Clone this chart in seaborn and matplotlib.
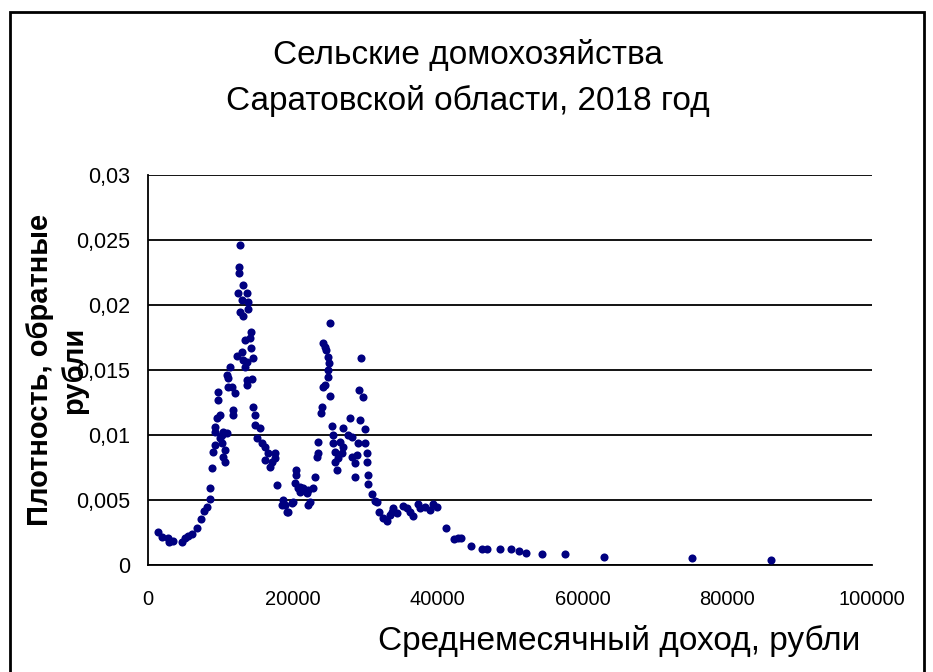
import matplotlib
matplotlib.use('Agg')
import matplotlib.pyplot as plt
import matplotlib.ticker as mticker
import seaborn as sns
import pandas as pd

# Income (rubles) and density (1/rubles)
income = [1450, 2000, 2810, 2900, 3460, 4660, 5110, 5570, 6040, 6730, 7370, 7780, 8110, 8570, 8570, 8800, 9020, 9260,
          9260, 9260, 9490, 9720, 9720, 9950, 9950, 10190, 10410, 10880, 10640, 10410, 10640, 10190, 10880, 11100,
          11330, 11100, 11570, 12020, 11790, 11790, 12260, 12950, 13170, 13410, 13410, 14190, 14100, 14190, 14550,
          13640, 14330, 12710, 13170, 13860, 13860, 13640, 12480, 12950, 13090, 12620, 12620, 12710, 13640, 13640,
          14550, 14790, 14790, 15020, 15480, 15710, 16170, 16630, 17550, 16170, 16860, 17550, 17790, 18700, 18480,
          19860, 19170, 18930, 19390, 17140,
          20080, 20450, 20450, 20320, 20770, 21010, 21460, 21010, 21930, 22150, 22840, 22390, 22150, 23080, 23310,
          23540, 23540,
          23870, 24010, 24140, 24460, 24920, 24920, 25060, 24920, 24460, 24230, 24600, 25150, 25150, 25390, 25610,
          25610, 25840, 25840, 26080, 26300, 26530, 26770, 27000, 27000, 27680, 27920, 28150, 28150, 28610, 28610,
          28840, 29060, 29300, 29200, 29760, 29440, 29990, 29990, 30220, 30220, 30450, 30450, 30920, 31370, 31610,
          31970, 32520, 32990, 33440, 33900, 33680, 34370, 35200, 35750, 36210, 36580, 37360, 37590, 38280, 38970,
          39430, 39980,
          41180, 42290, 42880, 43260, 44600, 46120, 46810, 48550, 50170, 51180, 52240, 54410, 57540, 62930, 75140,
          86060]
density = [0.00256, 0.00218, 0.00205, 0.00179, 0.00188, 0.00179, 0.00205, 0.00223, 0.00236, 0.00288, 0.00354,
           0.00418, 0.00448, 0.00504, 0.00592, 0.00744, 0.00872, 0.00923,
           0.01025, 0.01064, 0.01128, 0.01269, 0.01333, 0.01154, 0.00974, 0.00936, 0.01025, 0.01013, 0.00884,
           0.00833, 0.00794, 0.01000, 0.01461, 0.01436, 0.01525, 0.01371, 0.01371, 0.01320, 0.01192, 0.01154,
           0.01607, 0.01640, 0.01577, 0.01525, 0.01730, 0.01794, 0.01743, 0.01667, 0.01590, 0.01423, 0.01428,
           0.01948, 0.01915, 0.01967, 0.02025, 0.02090, 0.02090, 0.02038, 0.02154, 0.02248, 0.02295, 0.02462,
           0.01564, 0.01385,
           0.01218, 0.01154, 0.01077, 0.00974, 0.01051, 0.00936, 0.00910, 0.00859, 0.00859, 0.00807, 0.00756,
           0.00820, 0.00615, 0.00500, 0.00461, 0.00474, 0.00410, 0.00461, 0.00410, 0.00792,
           0.00487, 0.00731, 0.00692, 0.00628, 0.00590, 0.00602, 0.00590, 0.00564, 0.00551, 0.00577, 0.00590,
           0.00487, 0.00461, 0.00679, 0.00828, 0.00859, 0.00948,
           0.01167, 0.01218, 0.01371, 0.01385, 0.01448, 0.01500, 0.01551, 0.01602, 0.01679, 0.01705, 0.01654,
           0.01859, 0.01300, 0.01069, 0.01000, 0.00936, 0.00872, 0.00794, 0.00731, 0.00820, 0.00948, 0.00859,
           0.00910, 0.01051, 0.01000, 0.01128, 0.00982, 0.00833, 0.00782, 0.00679, 0.00846, 0.00936, 0.01115,
           0.01346, 0.01290, 0.01590, 0.01044, 0.00936, 0.00864, 0.00794, 0.00692, 0.00623, 0.00546, 0.00495,
           0.00482, 0.00408, 0.00359, 0.00342, 0.00385, 0.00436, 0.00410, 0.00398, 0.00454, 0.00436, 0.00410,
           0.00379, 0.00469, 0.00436, 0.00444, 0.00423, 0.00469, 0.00448,
           0.00282, 0.00200, 0.00205, 0.00208, 0.00146, 0.00121, 0.00121, 0.00121, 0.00121, 0.00108, 0.00095,
           0.00082, 0.00082, 0.00064, 0.00052, 0.00038]

x_ticks = [0, 20000, 40000, 60000, 80000, 100000]
y_ticks = [0, 0.005, 0.01, 0.015, 0.02, 0.025, 0.03]

df = pd.DataFrame({'income': income, 'density': density})

sns.set_style('white')
plt.rcParams['font.family'] = ['Liberation Sans', 'DejaVu Sans']
plt.rcParams['text.color'] = 'black'

fig = plt.figure(figsize=(9.33, 6.72), dpi=100)
ax = fig.add_axes([148 / 933, 1 - 565 / 672, 724 / 933, 390 / 672])

# horizontal grid lines at every y tick, drawn under the points
for yv in y_ticks:
    ax.axhline(yv, color='black', lw=1.3, zorder=1)

sns.scatterplot(data=df, x='income', y='density', ax=ax, color='#000080',
                s=34, linewidth=0, zorder=3, legend=False)

ax.set_xlim(0, 100000)
ax.set_ylim(0, 0.03)
ax.set_xticks(x_ticks)
ax.set_yticks(y_ticks)
ax.yaxis.set_major_formatter(mticker.FuncFormatter(lambda v, p: f'{v:g}'.replace('.', ',')))
ax.xaxis.set_major_formatter(mticker.FuncFormatter(lambda v, p: f'{int(v)}'))
ax.tick_params(axis='y', direction='out', length=7, width=1.2, labelsize=15.5, pad=6,
               colors='black', labelcolor='black')
ax.tick_params(axis='x', direction='out', length=7, width=1.2, labelsize=14.5, pad=11,
               colors='black', labelcolor='black')

for side in ['top', 'right']:
    ax.spines[side].set_visible(False)
for side in ['left', 'bottom']:
    ax.spines[side].set_color('black')
    ax.spines[side].set_linewidth(1.3)

ax.set_xlabel('')
ax.set_ylabel('')

fig.text(468 / 933, 1 - 78 / 672, 'Сельские домохозяйства\nСаратовской области, 2018 год',
         ha='center', va='center', fontsize=24, linespacing=1.55)
fig.text(619 / 933, 1 - 641 / 672, 'Среднемесячный доход, рубли',
         ha='center', va='center', fontsize=24)
fig.text(57 / 933, 1 - 370 / 672, 'Плотность, обратные\nрубли', rotation=90,
         ha='center', va='center', fontsize=21, fontweight='bold', linespacing=1.25)

# outer chart-area frame
frame = plt.Rectangle((10 / 933, -0.05), 914 / 933, 1.05 - 12 / 672, transform=fig.transFigure,
                      fill=False, edgecolor='black', lw=2)
fig.patches.append(frame)

fig.savefig('out.png', dpi=100, facecolor='white')
